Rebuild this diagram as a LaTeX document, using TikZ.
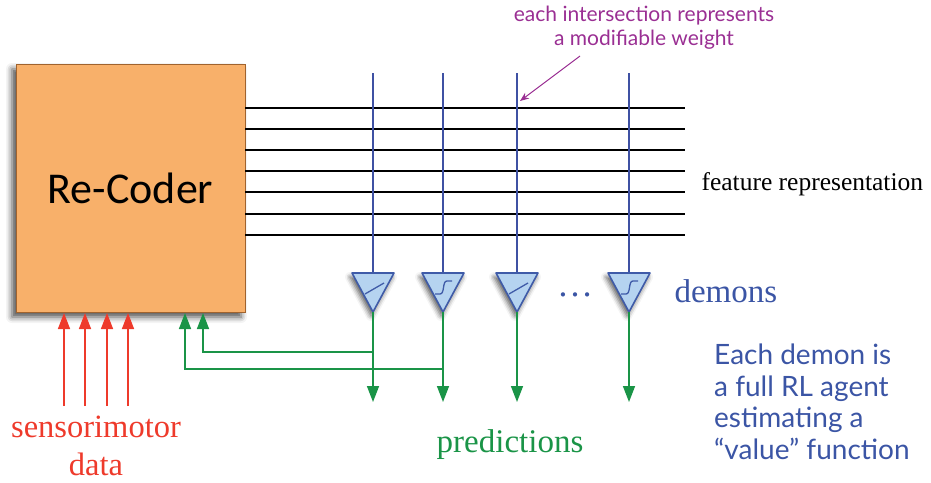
\documentclass[tikz,border=0pt]{standalone}
\usepackage{fontspec}
\setmainfont{Liberation Serif}
\newfontfamily\calib{Carlito}
\newfontfamily\gill{Lato}
\usetikzlibrary{arrows.meta,calc,shadows.blur}
\definecolor{boxfill}{HTML}{F8B06A}
\definecolor{boxline}{HTML}{A0632E}
\definecolor{vblue}{HTML}{3F51A3}
\definecolor{trifill}{HTML}{B5D3F0}
\definecolor{triline}{HTML}{3F5BA8}
\definecolor{pgreen}{HTML}{1A9447}
\definecolor{sred}{HTML}{EE3A2B}
\definecolor{purp}{HTML}{9A2F93}
\definecolor{tblue}{HTML}{3B55A5}
\tikzset{
  recoder/.style={draw=boxline,line width=1pt,fill=boxfill,minimum width=229pt,minimum height=248pt,inner sep=0pt,
    blur shadow={shadow xshift=-4pt,shadow yshift=-5pt,shadow blur radius=6pt,shadow opacity=70}},
  demon/.style={draw=triline,line width=1.6pt,fill=trifill,line join=round,
    blur shadow={shadow xshift=-2pt,shadow yshift=-4pt,shadow blur radius=5pt,shadow opacity=65}},
  feat/.style={black,line width=1.6pt},
  vline/.style={vblue,line width=1.2pt},
  gline/.style={pgreen,line width=1.5pt},
  garrow/.style={gline,-{Triangle[width=12pt,length=16pt]}},
  rarrow/.style={sred,line width=1.5pt,-{Triangle[width=12pt,length=16pt]}},
  sym/.style={triline,line width=1.3pt},
}
\begin{document}
\begin{tikzpicture}[x=1pt,y=-1pt]
\useasboundingbox (0,0) rectangle (931,482);
% Re-Coder box
\node[recoder] (rc) at (130.5,188) {\calib\fontsize{44}{48}\selectfont Re-Coder};
% feature lines
\foreach \i/\y in {1/108,2/129,3/150,4/171,5/192,6/214,7/235}{
  \coordinate (fl\i) at (245,\y);
  \coordinate (fr\i) at (685,\y);
  \draw[feat] (fl\i) -- (fr\i);
}
\node[anchor=base west,font=\fontsize{25.5}{28}\selectfont] (feat) at (698,190) {feature representation};
% demons
\foreach \k/\x in {1/373,2/443,3/517,4/629}{
  \coordinate (d\k) at (\x,288);
  \coordinate (dtop\k) at (\x,273);
  \coordinate (dapex\k) at (\x,312);
  \coordinate (top\k) at (\x,73);
  \coordinate (out\k) at (\x,402);
  \draw[vline] (top\k) -- (dtop\k);
  \draw[demon] ($(dtop\k)+(-21,0)$) -- ($(dtop\k)+(21,0)$) -- (dapex\k) -- cycle;
  \draw[garrow] (dapex\k) -- (out\k);
}
% symbols in triangles
\foreach \k in {1,3}{
  \draw[sym] ($(d\k)+(-8,6)$) -- ($(d\k)+(11,-5)$);
}
\foreach \k in {2,4}{
  \draw[sym] ($(d\k)+(-8,6)$) -- ($(d\k)+(-3,6)$) .. controls ($(d\k)+(2,6)$) and ($(d\k)+(-1,-7)$) .. ($(d\k)+(4,-7)$) -- ($(d\k)+(9,-7)$);
}
\node[tblue,font=\fontsize{36}{38}\selectfont] (dots) at (575,295) {\ldots};
\node[tblue,anchor=base west,font=\fontsize{33}{36}\selectfont] (demlab) at (671,302) {demons};
% feedback green
\coordinate (fb1) at (203,313);
\coordinate (fb2) at (185,313);
\draw[garrow] (d1 |- 0,352) -- (203,352) -- (fb1);
\draw[garrow] (d2 |- 0,369) -- (185,369) -- (fb2);
% red sensor arrows
\foreach \k/\x in {1/64,2/85,3/107,4/128}{
  \coordinate (s\k) at (\x,406);
  \coordinate (t\k) at (\x,313);
  \draw[rarrow] (s\k) -- (t\k);
}
\node[sred,font=\fontsize{32.5}{36}\selectfont,align=center] (sens) at (96,446) {sensorimotor\\[2pt]data};
\node[pgreen,font=\fontsize{33}{36}\selectfont] (pred) at (510,445) {predictions};
% annotation
\node[purp,font=\gill\fontsize{21}{24}\selectfont,align=center] (ann) at (644,28) {each intersection represents\\a modifiable weight};
\coordinate (annstart) at (580,56);
\coordinate (annend) at (520,101);
\draw[purp,line width=1pt,-{Stealth[length=9pt,width=7pt]}] (annstart) -- (annend);
% description
\node[tblue,anchor=north west,inner sep=0pt,font=\gill\fontsize{28}{31.5}\selectfont,align=left] (desc) at (714,344) {Each demon is\\a full RL agent\\estimating a\\“value” function};
\end{tikzpicture}
\end{document}
